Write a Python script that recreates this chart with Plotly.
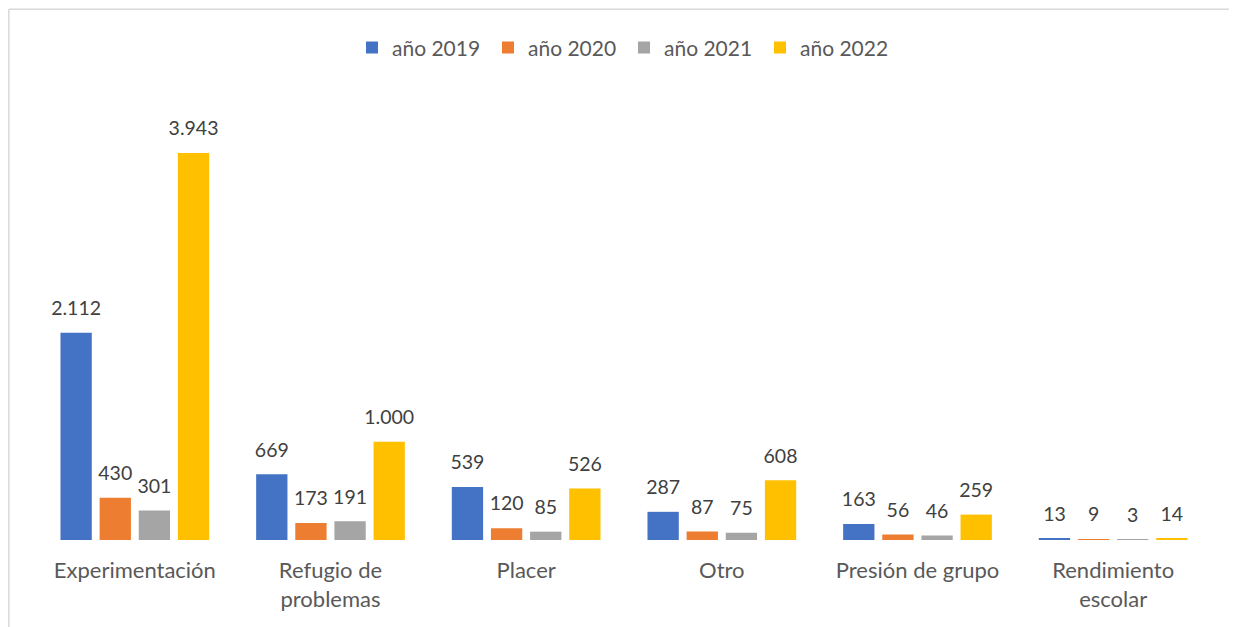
import plotly.graph_objects as go

categories = ["Experimentación", "Refugio de<br>problemas", "Placer", "Otro",
              "Presión de grupo", "Rendimiento<br>escolar"]
series_names = ["año 2019", "año 2020", "año 2021", "año 2022"]
v2019 = [2112, 669, 539, 287, 163, 13]
v2020 = [430, 173, 120, 87, 56, 9]
v2021 = [301, 191, 85, 75, 46, 3]
v2022 = [3943, 1000, 526, 608, 259, 14]
colors = ["#4472C4", "#ED7D31", "#A5A5A5", "#FFC000"]

FONT = "Lato, 'Noto Sans', sans-serif"
fig = go.Figure()
for name, vals, col in zip(series_names, [v2019, v2020, v2021, v2022], colors):
    fig.add_trace(go.Bar(x=categories, y=vals, name=name, marker_color=col,
                         marker_line_width=0, alignmentgroup="bars",
                         offsetgroup=name, hoverinfo="skip"))
for name, vals in zip(series_names, [v2019, v2020, v2021, v2022]):
    fig.add_trace(go.Scatter(x=categories, y=vals, mode="markers+text",
                             marker=dict(size=19, color="rgba(0,0,0,0)"),
                             texttemplate="%{y:,}", textposition="top center",
                             textfont=dict(size=19.5, color="#404040", family=FONT),
                             showlegend=False, hoverinfo="skip", cliponaxis=False,
                             alignmentgroup="labels", offsetgroup=name + "_l"))

fig.update_layout(
    width=1229, height=619,
    margin=dict(l=29, r=26, t=72, b=87),
    paper_bgcolor="white", plot_bgcolor="white",
    barmode="group", bargap=0.2, bargroupgap=0.2,
    scattermode="group", scattergap=0.2,
    separators=",.",
    font=dict(family=FONT, size=19, color="#595959"),
    legend=dict(orientation="h", x=0.5, xanchor="center", y=1.07, yanchor="middle",
                font=dict(size=21, color="#595959"), entrywidth=91,
                itemwidth=30),
    xaxis=dict(showline=False, showgrid=False, zeroline=False, ticks="",
               tickfont=dict(size=22, color="#595959"), ticklabelstandoff=15),
    yaxis=dict(range=[0, 4687], visible=False),
    showlegend=True,
    shapes=[
        dict(type="line", xref="paper", yref="paper", x0=-0.024, x1=1.03,
             y0=1.154, y1=1.154, line=dict(color="#D9D9D9", width=1.5)),
        dict(type="line", xref="paper", yref="paper", x0=-0.024, x1=-0.024,
             y0=1.154, y1=-0.2, line=dict(color="#D9D9D9", width=1.5)),
    ],
)
fig.write_html("out.html")
